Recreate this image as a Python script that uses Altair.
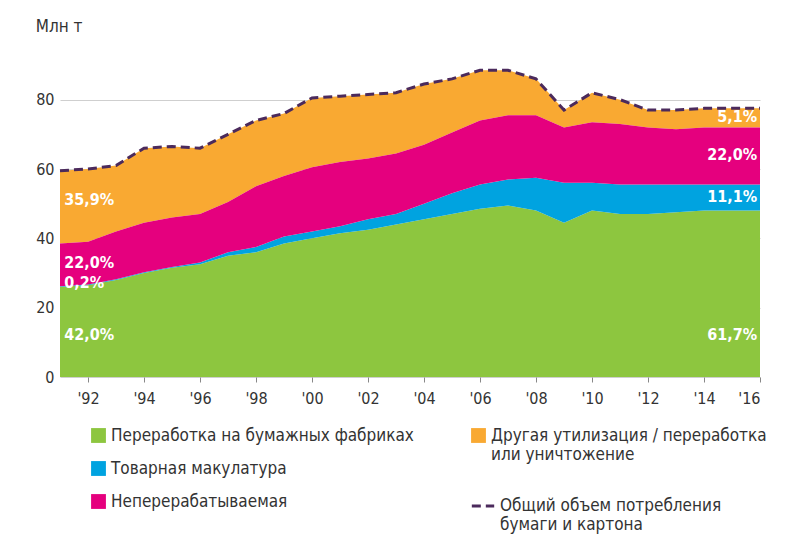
import altair as alt
import pandas as pd

years = list(range(1991, 2017))
total = [59.5, 60, 61, 66, 66.5, 66, 70, 74, 76, 80.5, 81, 81.5, 82, 84.5, 86, 88.5,
         88.5, 86, 77, 82, 80, 77, 77, 77.5, 77.5, 77.5]
green_top = [26, 26.5, 28, 30, 31.5, 32.5, 35, 36, 38.5, 40, 41.5, 42.5, 44, 45.5, 47, 48.5,
             49.5, 48, 44.5, 48, 47, 47, 47.5, 48, 48, 48]
blue_top = [26.2, 26.7, 28.2, 30.2, 31.7, 33, 36, 37.5, 40.5, 42, 43.5, 45.5, 47, 50, 53, 55.5,
            57, 57.5, 56, 56, 55.5, 55.5, 55.5, 55.5, 55.5, 55.5]
pink_top = [38.5, 39, 42, 44.5, 46, 47, 50.5, 55, 58, 60.5, 62, 63, 64.5, 67, 70.5, 74,
            75.5, 75.5, 72, 73.5, 73, 72, 71.5, 72, 72, 72]

cats = ["Переработка на бумажных фабриках", "Товарная макулатура", "Неперерабатываемая"]
cat_colors = ["#8dc63f", "#00a3e0", "#e5007e"]
other_cat = "Другая утилизация / переработка|или уничтожение"
line_cat = "Общий объем потребления|бумаги и картона"

left_labels = ["42,0%", "0,2%", "22,0%", "35,9%"]
left_y = [12, 27, 33, 51]
right_labels = ["61,7%", "11,1%", "22,0%", "5,1%"]
right_y = [12, 52, 64, 75]

FONT = "DejaVu Sans Condensed"

rows = []
for i, y in enumerate(years):
    rows.append({"year": y, "cat": cats[0], "lo": 0, "hi": green_top[i]})
    rows.append({"year": y, "cat": cats[1], "lo": green_top[i], "hi": blue_top[i]})
    rows.append({"year": y, "cat": cats[2], "lo": blue_top[i], "hi": pink_top[i]})
df = pd.DataFrame(rows)
df_other = pd.DataFrame({"year": years, "lo": pink_top, "hi": total, "cat": other_cat})
df_total = pd.DataFrame({"year": years, "total": total, "cat": line_cat})
df_left = pd.DataFrame({"year": 1991.15, "y": left_y, "label": left_labels})
df_right = pd.DataFrame({"year": 2015.9, "y": right_y, "label": right_labels})

x_enc = alt.X("year:Q", scale=alt.Scale(domain=[1991, 2016], nice=False),
              axis=alt.Axis(values=list(range(1992, 2017, 2)), title=None, grid=False,
                            labelExpr="\"'\" + slice(toString(datum.value), 2)",
                            labelFontSize=16, labelFont=FONT, labelColor="#333",
                            labelPadding=8, tickColor="#888", domain=False))
y_scale = alt.Scale(domain=[0, 90], nice=False)
y_axis = alt.Axis(values=list(range(0, 91, 10)), title=None, gridColor="#cfcfcf",
                  labelFontSize=16, labelFont=FONT, labelColor="#333", ticks=False,
                  domain=False, labelPadding=6)

legend_common = dict(orient="none", title=None, labelFontSize=17, labelFont=FONT,
                     labelColor="#333", labelLimit=400,
                     labelExpr="split(datum.label, '|')")

main = alt.Chart(df).mark_area(opacity=1).encode(
    x=x_enc,
    y=alt.Y("hi:Q", scale=y_scale, axis=y_axis),
    y2="lo:Q",
    fill=alt.Fill("cat:N", sort=cats, scale=alt.Scale(domain=cats, range=cat_colors),
                  legend=alt.Legend(legendX=30, legendY=362, symbolType="square",
                                    symbolSize=220, rowPadding=15, **legend_common)),
)

other = alt.Chart(df_other).mark_area(opacity=1).encode(
    x="year:Q", y="hi:Q", y2="lo:Q",
    fill=alt.Fill("cat:N", scale=alt.Scale(domain=[other_cat], range=["#f9a932"]),
                  legend=alt.Legend(legendX=410, legendY=362, symbolType="square",
                                    symbolSize=220, **legend_common)),
)

line = alt.Chart(df_total).mark_line(strokeWidth=3, color="#4b2a5c").encode(
    x="year:Q", y="total:Q",
    strokeDash=alt.StrokeDash("cat:N", scale=alt.Scale(domain=[line_cat], range=[[9, 5]]),
                              legend=alt.Legend(legendX=410, legendY=428, symbolType="stroke",
                                                symbolStrokeColor="#4b2a5c", symbolStrokeWidth=3,
                                                symbolSize=500, **legend_common)),
)

txt_l = alt.Chart(df_left).mark_text(align="left", color="white", fontWeight="bold",
                                     fontSize=16, font=FONT).encode(
    x="year:Q", y="y:Q", text="label:N")
txt_r = alt.Chart(df_right).mark_text(align="right", color="white", fontWeight="bold",
                                      fontSize=16, font=FONT).encode(
    x="year:Q", y="y:Q", text="label:N")

chart = alt.layer(other, main, line, txt_l, txt_r).resolve_scale(
    fill="independent", strokeDash="independent"
).properties(
    width=700, height=312,
    autosize=alt.AutoSizeParams(type="none"),
    padding={"left": 52, "top": 57, "right": 37, "bottom": 173},
    title=alt.TitleParams("Млн т", anchor="start", fontSize=17, font=FONT, color="#333",
                          fontWeight="normal", offset=28, dx=0),
).configure_view(stroke=None)

chart.save("out.html", embed_options={"renderer": "svg", "actions": False})
